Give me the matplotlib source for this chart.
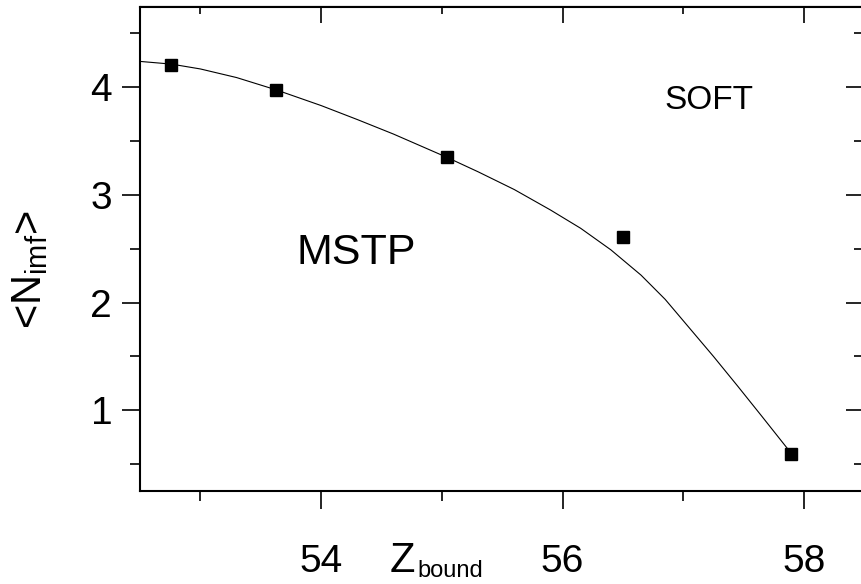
import matplotlib
matplotlib.use("Agg")
import matplotlib.pyplot as plt

plt.rcParams['font.family'] = ['Liberation Sans', 'DejaVu Sans']
plt.rcParams['mathtext.fontset'] = 'custom'
plt.rcParams['mathtext.rm'] = 'Liberation Sans'
plt.rcParams['mathtext.it'] = 'Liberation Sans'

# measured points
z_bound = [52.76, 53.63, 55.04, 56.50, 57.89]
n_imf = [4.21, 3.97, 3.35, 2.61, 0.59]

# smooth line
curve_x = [52.50, 52.76, 53.00, 53.30, 53.63, 54.00, 54.30, 54.60, 55.04, 55.30,
           55.60, 55.90, 56.15, 56.40, 56.65, 56.85, 57.05, 57.25, 57.45, 57.65, 57.88]
curve_y = [4.240, 4.215, 4.170, 4.090, 3.975, 3.830, 3.700, 3.565, 3.350, 3.215,
           3.050, 2.860, 2.690, 2.490, 2.255, 2.030, 1.765, 1.500, 1.225, 0.945, 0.620]

fig = plt.figure(figsize=(8.62, 5.84), dpi=100)
ax = fig.add_axes([140/862, 1-491/584, 728/862, 484.5/584])

ax.plot(curve_x, curve_y, color='black', lw=0.8)
ax.plot(z_bound, n_imf, 's', color='black', ms=8.5)

ax.set_xlim(52.5, 58.53)
ax.set_ylim(0.25, 4.75)
ax.set_xticks([54, 56, 58])
ax.set_xticks([53, 55, 57], minor=True)
ax.set_yticks([1, 2, 3, 4])
ax.set_yticks([0.5, 1.5, 2.5, 3.5, 4.5], minor=True)

for s in ax.spines.values():
    s.set_linewidth(1.5)

ax.tick_params(which='major', direction='out', length=13, width=1.2, labelsize=28)
ax.tick_params(which='minor', direction='out', length=7, width=1.2)
ax.tick_params(axis='x', pad=25)
ax.tick_params(axis='y', pad=7)

top = ax.secondary_xaxis('top')
top.set_xticks([54, 56, 58])
top.set_xticks([53, 55, 57], minor=True)
top.tick_params(which='major', direction='in', length=12, width=1.2, labeltop=False)
top.tick_params(which='minor', direction='in', length=6, width=1.2)

right = ax.secondary_yaxis('right')
right.set_yticks([1, 2, 3, 4])
right.set_yticks([0.5, 1.5, 2.5, 3.5, 4.5], minor=True)
right.tick_params(which='major', direction='in', length=16, width=1.2, labelright=False)
right.tick_params(which='minor', direction='in', length=10, width=1.2)

ax.text(57.21, 3.88, 'SOFT', fontsize=24, ha='center', va='center')
ax.text(54.29, 2.46, 'MSTP', fontsize=31, ha='center', va='center')

# x axis title: Z with a smaller "bound" below
fig.text(390/862, 1-572/584, 'Z', fontsize=30, ha='left', va='baseline')
fig.text(417/862, 1-577/584, 'bound', fontsize=17, ha='left', va='baseline')
fig.text(30/862, 1-270/584, r'<$N_{\mathrm{imf}}$>', fontsize=30, ha='center', va='center',
         rotation=90)

plt.savefig('out.png', dpi=100)
